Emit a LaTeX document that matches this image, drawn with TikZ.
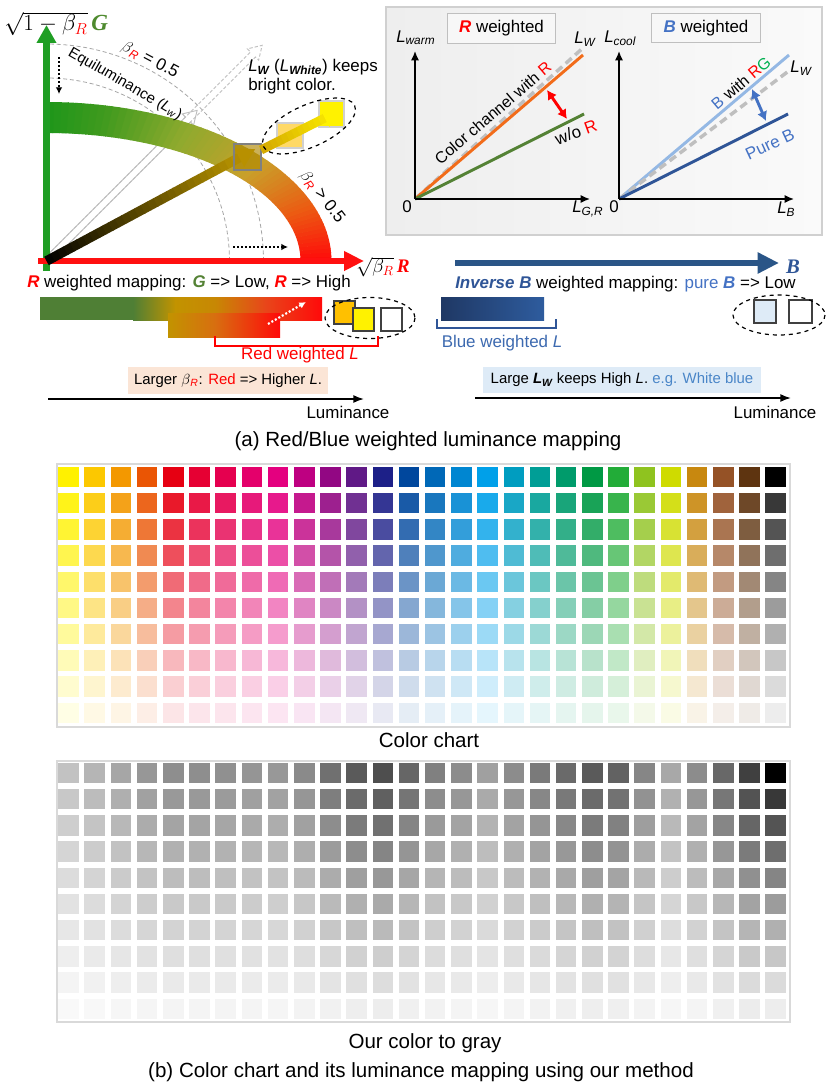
\documentclass[tikz,border=0pt]{standalone}
\usepackage{fontspec}
\setmainfont{Liberation Sans}
\newfontfamily\tnr{Liberation Serif}
\usetikzlibrary{arrows.meta}
\definecolor{axgreen}{HTML}{1F9E24}
\definecolor{axred}{HTML}{FF1010}
\definecolor{lgreen}{HTML}{4E8A2E}
\definecolor{tgreen}{HTML}{548235}
\definecolor{rred}{HTML}{FF0000}
\definecolor{bs0}{HTML}{FF0A0A}
\definecolor{bs1}{HTML}{EC5A12}
\definecolor{bs2}{HTML}{C9A02A}
\definecolor{bs3}{HTML}{8EAA2E}
\definecolor{bs4}{HTML}{3F9A1E}
\definecolor{bs5}{HTML}{1E961A}
\definecolor{gold}{HTML}{C8A000}
\definecolor{gold2}{HTML}{D4A800}
\definecolor{yel}{HTML}{FFF200}
\definecolor{dgray}{HTML}{A6A6A6}
\definecolor{hgray}{HTML}{BFBFBF}
\definecolor{panelbd}{HTML}{D0D0D0}
\definecolor{panL}{HTML}{EEEEEE}
\definecolor{panR}{HTML}{FAFAFA}
\definecolor{orln}{HTML}{F26C1A}
\definecolor{gnln}{HTML}{548235}
\definecolor{lbln}{HTML}{94B8E4}
\definecolor{dbln}{HTML}{2F5597}
\definecolor{mblue}{HTML}{4472C4}
\definecolor{bgreen}{HTML}{00B050}
\definecolor{barG}{HTML}{4F7F35}
\definecolor{barY}{HTML}{C29300}
\definecolor{barO}{HTML}{E8461A}
\definecolor{barR}{HTML}{FF0A0A}
\definecolor{barO2}{HTML}{D86E10}
\definecolor{bluearr}{HTML}{2A5587}
\definecolor{navyA}{HTML}{1F3864}
\definecolor{navyB}{HTML}{2E5C9E}
\definecolor{peach}{HTML}{FBE5D6}
\definecolor{lblue}{HTML}{DEEBF7}
\definecolor{txtblue}{HTML}{3D6AB0}
\definecolor{wblue}{HTML}{4A86C8}
\definecolor{chartbd}{HTML}{D9D9D9}
\definecolor{boxgold}{HTML}{B08800}
\definecolor{lorange}{HTML}{FFD966}
\definecolor{sqorange}{HTML}{FFC000}
\tikzset{
 lab/.style={font=\fontsize{12.7}{15}\selectfont, inner sep=0pt},
 sml/.style={font=\fontsize{11.2}{13}\selectfont, inner sep=0pt},
 captxt/.style={font=\fontsize{15.4}{18}\selectfont, inner sep=0pt},
 dcirc/.style={draw=dgray, line width=0.6pt, dash pattern=on 3pt off 2pt},
 hollow/.style={draw=hgray, line width=0.7pt},
 plotaxis/.style={line width=1.1pt, -{Latex[length=7pt,width=6pt]}},
 dotarr/.style={line width=1.6pt, dash pattern=on 1.5pt off 1.5pt, -{Latex[length=5pt,width=5pt]}},
 sqbox/.style={draw=black!75, line width=0.9pt},
 lumarr/.style={line width=1.2pt, -{Latex[length=8pt,width=6pt]}},
 wbox/.style={font=\fontsize{12.7}{15}\selectfont, inner sep=0pt, draw=hgray, fill=white!97!black, line width=0.8pt, minimum width=81.5pt, minimum height=22pt},
}
\begin{document}
\begin{tikzpicture}[x=0.75pt,y=-0.75pt]
\useasboundingbox (0,0) rectangle (830,1088);
\fill[white] (0,0) rectangle (830,1088);

% ---------------- top-left diagram ----------------
\draw[dcirc] plot[domain=0:90,samples=50] ({46.5+183*cos(\x)},{261-183*sin(\x)});
\draw[dcirc] plot[domain=0:90,samples=50] ({46.5+217*cos(\x)},{261-217*sin(\x)});
\begin{scope}[shift={(46.5,261)},rotate=45]
 \draw[hollow, dash pattern=on 2.5pt off 1.5pt] (0,-3.5) -- (292,-3.5) -- (292,-8) -- (305,0) -- (292,8) -- (292,3.5) -- (0,3.5);
 \draw[hollow] (0,-3.5) -- (200,-3.5) -- (200,-8) -- (213,0) -- (200,8) -- (200,3.5) -- (0,3.5);
\end{scope}
% band
\foreach \t in {0,1.5,...,88.5}{
  \pgfmathsetmacro\tm{\t+0.75}
  \pgfmathsetmacro\tb{\t+1.7}
  \ifdim\tm pt<20pt \pgfmathsetmacro\pp{\tm*5}\colorlet{bc}{bs1!\pp!bs0}\else
  \ifdim\tm pt<40pt \pgfmathsetmacro\pp{(\tm-20)*5}\colorlet{bc}{bs2!\pp!bs1}\else
  \ifdim\tm pt<60pt \pgfmathsetmacro\pp{(\tm-40)*5}\colorlet{bc}{bs3!\pp!bs2}\else
  \ifdim\tm pt<78pt \pgfmathsetmacro\pp{(\tm-60)*100/18}\colorlet{bc}{bs4!\pp!bs3}\else
  \pgfmathsetmacro\pp{(\tm-78)*100/12}\colorlet{bc}{bs5!\pp!bs4}\fi\fi\fi\fi
  \fill[bc] ({46.5+285*cos(\t)},{261-159*sin(\t)}) -- ({46.5+285*cos(\tb)},{261-159*sin(\tb)}) -- ({46.5+254*cos(\tb)},{261-128*sin(\tb)}) -- ({46.5+254*cos(\t)},{261-128*sin(\t)}) -- cycle;
}
% axes
\coordinate (O) at (46.5,261);
\coordinate (Gbot) at (46.5,271);
\coordinate (Gtop) at (46.5,25);
\coordinate (Rl) at (38,261);
\coordinate (Rr) at (364,261);
\draw[axgreen, line width=4.6pt, -{Triangle[length=13.5pt,width=14pt]}] (Gbot) -- (Gtop);
\draw[axred, line width=5pt, -{Triangle[length=15pt,width=14pt]}] (Rl) -- (Rr);
% arrow 1 black -> gold
\begin{scope}[shift={(46.5,261)},rotate=28.2]
 \foreach \k in {0,...,29}{
   \pgfmathsetmacro\sa{\k*7.29}
   \pgfmathsetmacro\sb{\sa+7.9}
   \pgfmathsetmacro\pp{(\k+0.5)*100/30*0.924}
   \fill[gold!\pp!black] (\sa,-4.8) -- (\sb,-4.8) -- (\sb,4.8) -- (\sa,4.8) -- cycle;
 }
 \fill[gold] (218.7,-10.5) -- (236.7,0) -- (218.7,10.5) -- cycle;
\end{scope}
\draw[fill=boxgold, fill opacity=0.65, draw=gray, line width=0.9pt] (234,144) rectangle (261,170);
% squares
\draw[fill=lorange, draw=panelbd, line width=0.8pt] (277,123) rectangle (303,148);
\draw[fill=yellow, draw=panelbd, line width=0.8pt] (319,101) rectangle (344,127);
% arrow 2 gold -> yellow
\begin{scope}[shift={(261,150)},rotate=26.6]
 \foreach \k in {0,...,11}{
   \pgfmathsetmacro\sa{\k*5.95}
   \pgfmathsetmacro\sb{\sa+6.5}
   \pgfmathsetmacro\pp{(\k+0.5)*100/12*0.8}
   \fill[yel!\pp!gold2] (\sa,-4.5) -- (\sb,-4.5) -- (\sb,4.5) -- (\sa,4.5) -- cycle;
 }
 \fill[yel] (71.4,-10) -- (89.4,0) -- (71.4,10) -- cycle;
\end{scope}
\draw[dashed, line width=0.9pt, rotate around={24:(309,126)}] (309,126) ellipse [x radius=50, y radius=21];
% dotted arrows
\coordinate (d1a) at (59,57);
\coordinate (d1b) at (59,94);
\draw[dotarr] (d1a) -- (d1b);
\coordinate (d2a) at (233,247);
\coordinate (d2b) at (288,247);
\draw[dotarr] (d2a) -- (d2b);
% labels
\node[anchor=south west, font=\fontsize{17.28}{20}\selectfont, inner sep=0pt] (gaxlab) at (4,36) {$\sqrt{1-\beta_{\textcolor{red}{R}}}$\,{\tnr\bfseries\itshape\color{lgreen}G}};
\node[anchor=west, font=\fontsize{14.4}{18}\selectfont, inner sep=0pt] (raxlab) at (356,267) {$\sqrt{\beta_{\textcolor{red}{R}}}$\,{\tnr\bfseries\itshape\color{red}R}};
\node[lab, rotate=-28] (b05) at (150,60) {$\beta$\textsubscript{\color{rred}\itshape R} = 0.5};
\node[sml, rotate=-30] (equi) at (125,84) {Equiluminance (\textit{L}\textsubscript{\itshape w})};
\node[lab, rotate=-52] (bgt) at (322,197) {$\beta$\textsubscript{\color{rred}\itshape R} > 0.5};
\node[lab, anchor=west] (lwt1) at (248,67) {\textit{L}\textsubscript{\bfseries\itshape W} (\textit{L}\textsubscript{\bfseries\itshape White}) keeps};
\node[lab, anchor=west] (lwt2) at (248,86) {bright color.};

% ---------------- top-right panel ----------------
\shade[left color=panL, right color=panR, draw=panelbd, line width=0.8pt] (386,7) rectangle (822,235);
\coordinate (OL) at (415,199);
\coordinate (OLy) at (415,51);
\coordinate (OLx) at (590,199);
\coordinate (lw1e) at (584,47);
\coordinate (or1e) at (583,55);
\coordinate (gn1e) at (584,114);
\draw[hgray, line width=2.6pt, dash pattern=on 6pt off 3.5pt] (OL) -- (lw1e);
\draw[orln, line width=2.2pt] (OL) -- (or1e);
\draw[gnln, line width=2.2pt] (OL) -- (gn1e);
\draw[plotaxis] (OL) -- (OLy);
\draw[plotaxis] (OL) -- (OLx);
\coordinate (rda) at (547,90);
\coordinate (rdb) at (567,119);
\draw[rred, line width=2.2pt, {Latex[length=7pt,width=8pt]}-{Latex[length=7pt,width=8pt]}] (rda) -- (rdb);
\coordinate (OR) at (619,199);
\coordinate (ORy) at (619,51);
\coordinate (ORx) at (794,199);
\coordinate (lb2e) at (789,55);
\coordinate (lw2e) at (790,70);
\coordinate (db2e) at (788,114);
\draw[lbln, line width=2.2pt] (OR) -- (lb2e);
\draw[hgray, line width=2.6pt, dash pattern=on 6pt off 3.5pt] (OR) -- (lw2e);
\draw[dbln, line width=2.2pt] (OR) -- (db2e);
\draw[plotaxis] (OR) -- (ORy);
\draw[plotaxis] (OR) -- (ORx);
\coordinate (bda) at (752,89);
\coordinate (bdb) at (766,121);
\draw[mblue, line width=2.2pt, {Latex[length=7pt,width=8pt]}-{Latex[length=7pt,width=8pt]}] (bda) -- (bdb);
\node[wbox] (rwbox) at (501.5,28.5) {{\bfseries\itshape\color{rred}R} weighted};
\node[wbox] (bwbox) at (706,28) {{\bfseries\itshape\color{mblue}B} weighted};
\node[lab, anchor=west] (lwarm) at (396,38) {\textit{L}\textsubscript{\itshape warm}};
\node[lab, anchor=west] (lcool) at (604,38) {\textit{L}\textsubscript{\itshape cool}};
\node[lab] (z1) at (407,207) {0};
\node[lab] (z2) at (614,207) {0};
\node[lab, anchor=west] (lgr) at (572,209) {\textit{L}\textsubscript{\itshape G,R}};
\node[lab, anchor=west] (lb) at (777,209) {\textit{L}\textsubscript{\itshape B}};
\node[lab, anchor=west] (lw1) at (574,39) {\textit{L}\textsubscript{\itshape W}};
\node[lab] (lw2) at (801,68) {\textit{L}\textsubscript{\itshape W}};
\node[font=\fontsize{12}{14}\selectfont, inner sep=0pt, rotate=40.6] (cch) at (493,113) {Color channel with \textcolor{rred}{R}};
\node[lab, rotate=20] (wo) at (576,132) {w/o \textcolor{rred}{R}};
\node[font=\fontsize{12}{14}\selectfont, inner sep=0pt, rotate=40.3] (bwrg) at (741,83) {\textcolor{mblue}{B} with \textcolor{rred}{R}\textcolor{bgreen}{G}};
\node[lab, rotate=25, text=mblue] (pureb) at (770,144) {Pure B};

% ---------------- middle band (left) ----------------
\node[lab, anchor=west] (rmap) at (27,283) {{\bfseries\itshape\color{rred}R} weighted mapping: {\bfseries\itshape\color{tgreen}G} => Low, {\bfseries\itshape\color{rred}R} => High};
\fill[barG] (40,297) rectangle (133.5,320);
\shade[left color=barG, right color=barY] (133,297) rectangle (175.5,320);
\shade[left color=barY, right color=barY!85!barO] (175,297) rectangle (215.5,320);
\shade[left color=barY!85!barO, right color=barO] (215,297) rectangle (265.5,320);
\shade[left color=barO, right color=barR] (265,297) rectangle (322,320);
\shade[left color=barY, right color=barO2] (168,313) rectangle (215.5,337);
\shade[left color=barO2, right color=barR] (215,313) rectangle (280,337);
\coordinate (wa) at (268,324);
\coordinate (wb) at (306,302);
\draw[dotarr, white] (wa) -- (wb);
\draw[sqbox, fill=sqorange] (334,301) rectangle (355,324);
\draw[sqbox, fill=yellow] (353,308) rectangle (374,331);
\draw[sqbox, fill=white] (381,308) rectangle (402,331);
\draw[dashed, line width=0.9pt] (370,318) ellipse [x radius=45, y radius=20.5];
\coordinate (rb1) at (215,336);
\coordinate (rb2) at (215,346);
\coordinate (rb3) at (378,346);
\coordinate (rb4) at (378,336);
\draw[rred, line width=1.5pt] (rb1) -- (rb2) -- (rb3) -- (rb4);
\node[lab, text=rred] (rwl) at (300,355) {Red weighted \textit{L}};
\node[sml, fill=peach, minimum width=150pt, minimum height=20.25pt] (larger) at (228,380.5) {Larger $\beta$\textsubscript{\color{rred}\itshape R}: \textcolor{rred}{Red} => Higher \textit{L}.};
\coordinate (la1) at (48,399);
\coordinate (la2) at (364,399);
\draw[lumarr] (la1) -- (la2);
\node[lab] (lum1) at (348,412) {Luminance};

% ---------------- middle band (right) ----------------
\coordinate (ba1) at (455,263);
\coordinate (ba2) at (779,263);
\draw[bluearr, line width=5.2pt, -{Triangle[length=16pt,width=15pt]}] (ba1) -- (ba2);
\node[font={\tnr\fontsize{15.5}{18}\selectfont\bfseries\itshape}, text=dbln, inner sep=0pt] (Blab) at (793,267) {B};
\node[lab, anchor=west] (bmap) at (455,284) {\textcolor{dbln}{\bfseries\itshape Inverse B} weighted mapping: \textcolor{mblue}{pure \textbf{\textit{B}}} => Low};
\shade[left color=navyA, right color=navyB] (441,297) rectangle (544,320);
\coordinate (bb1) at (437,319);
\coordinate (bb2) at (437,328);
\coordinate (bb3) at (556,328);
\coordinate (bb4) at (556,319);
\draw[dbln, line width=1.5pt] (bb1) -- (bb2) -- (bb3) -- (bb4);
\node[lab, text=txtblue] (bwl) at (502,343) {Blue weighted \textit{L}};
\draw[sqbox, fill=lblue] (754,300) rectangle (776,323);
\draw[sqbox, fill=white] (789,300) rectangle (812,323);
\draw[dashed, line width=0.9pt] (779,315) ellipse [x radius=46, y radius=20];
\node[sml, fill=lblue, minimum width=208.5pt, minimum height=19.5pt] (large) at (622,380) {Large {\bfseries\itshape L}\textsubscript{\bfseries\itshape W} keeps High \textit{L}. \textcolor{wblue}{e.g. White blue}};
\coordinate (lb1) at (475,398);
\coordinate (lb2) at (791,398);
\draw[lumarr] (lb1) -- (lb2);
\node[lab] (lum2) at (775,412) {Luminance};

\node[captxt] (capa) at (428,441) {(a) Red/Blue weighted luminance mapping};

% ---------------- charts ----------------
\draw[chartbd, line width=1pt] (57,464) rectangle (790,727);
\draw[chartbd, line width=1pt] (57,761) rectangle (790,1022);
\foreach \hx/\gv [count=\i from 0] in {FFF100/C2,FCC800/B5,F39800/A6,EA5504/97,E60012/8E,E60033/8E,E5004F/90,E4006B/95,E4007F/98,BE0081/8A,920783/70,601986/5A,1D2088/4E,00479D/66,0068B7/80,0086D1/8C,00A0E9/A0,009DC0/8C,009E96/7A,009B6B/6A,009944/5A,22AC38/62,8FC31F/86,CFDB00/A8,C8880F/8C,955226/68,5E3410/40,000000/00}{
  \definecolor{cb}{HTML}{\hx}
  \definecolor{gb}{HTML}{\gv\gv\gv}
  \ifnum\i=27 \def\flist{100,78,67,57,48,39,31,22,14,7}\else\def\flist{100,90,80,69,58,48,39,28,19,10}\fi
  \foreach \f [count=\r from 0] in \flist {
    \fill[cb!\f!white] ({58.3+\i*26.19},{466.7+\r*26.2}) rectangle ++(20.5,20.5);
    \fill[gb!\f!white] ({58.3+\i*26.19},{762.7+\r*26.2}) rectangle ++(20.5,20.5);
  }
}
\node[captxt] (cc) at (429,740) {Color chart};
\node[captxt] (ocg) at (425,1043) {Our color to gray};
\node[captxt] (capb) at (421,1072) {(b) Color chart and its luminance mapping using our method};
\end{tikzpicture}
\end{document}
